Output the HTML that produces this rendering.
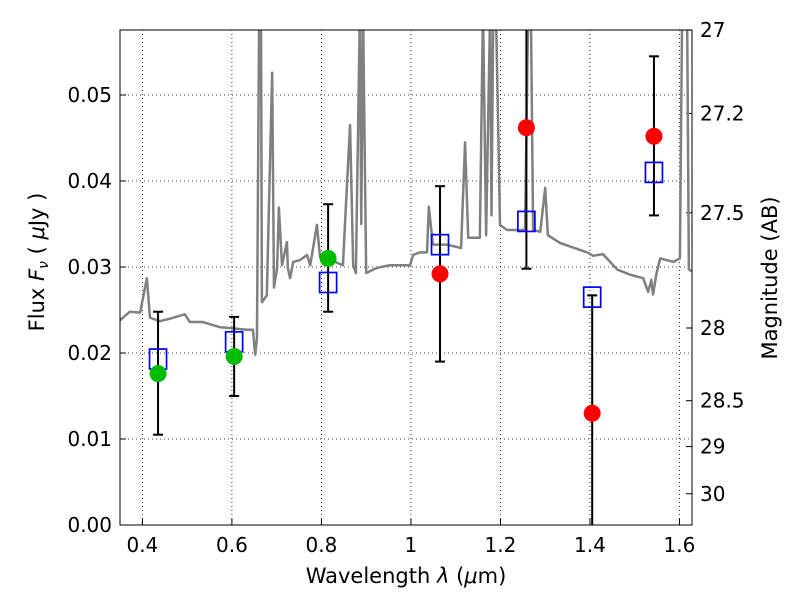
<!DOCTYPE html>
<html><head><meta charset="utf-8"><style>
body{margin:0;background:#fff;}
svg{font-family:"DejaVu Sans","Liberation Sans",sans-serif;}
</style></head><body>
<svg id="chart" width="800" height="600" viewBox="0 0 800 600"></svg>
<script>
const specLam=[0.350,0.372,0.395,0.410,0.417,0.439,0.462,0.495,0.506,0.535,0.573,0.596,0.634,0.647,0.652,0.656,0.661,0.665,0.667,0.678,0.690,0.694,0.701,0.705,0.712,0.723,0.725,0.730,0.737,0.752,0.768,0.775,0.790,0.797,0.813,0.835,0.848,0.864,0.871,0.877,0.886,0.889,0.893,0.900,0.924,0.953,0.998,1.005,1.020,1.036,1.040,1.049,1.081,1.112,1.121,1.128,1.154,1.161,1.168,1.177,1.180,1.184,1.190,1.199,1.215,1.255,1.262,1.268,1.273,1.289,1.300,1.306,1.333,1.394,1.407,1.429,1.461,1.490,1.519,1.530,1.537,1.541,1.548,1.557,1.586,1.601,1.606,1.617,1.621,1.628];
const specFlux=[0.0238,0.0248,0.0247,0.0287,0.0241,0.0237,0.0240,0.0245,0.0236,0.0236,0.0230,0.0229,0.0227,0.0227,0.0198,0.0217,0.06,0.06,0.0259,0.0267,0.0526,0.0276,0.0299,0.0369,0.0302,0.0329,0.0299,0.0287,0.0306,0.0308,0.0314,0.0302,0.0349,0.0311,0.0311,0.0305,0.0302,0.0465,0.0302,0.0293,0.06,0.035,0.06,0.0293,0.0299,0.0302,0.0302,0.0314,0.0317,0.0317,0.037,0.0326,0.0326,0.0322,0.0445,0.0334,0.0334,0.06,0.0337,0.06,0.036,0.06,0.06,0.0349,0.0343,0.0343,0.06,0.06,0.0343,0.0341,0.0392,0.0337,0.0328,0.0317,0.0313,0.0315,0.0297,0.0291,0.0287,0.0271,0.0285,0.0268,0.0291,0.031,0.0306,0.031,0.06,0.06,0.0297,0.0295];
const bandLam=[0.435,0.605,0.815,1.065,1.258,1.405,1.543];
const obsFlux=[0.0176,0.0196,0.031,0.0292,0.0462,0.013,0.0452];
const errLo=[0.0105,0.015,0.0248,0.019,0.0298,-0.001,0.036];
const errHi=[0.0248,0.0242,0.0373,0.0394,0.06,0.0267,0.0545];
const obsColor=['#00bb00','#00bb00','#00bb00','#ff0000','#ff0000','#ff0000','#ff0000'];
const modelFlux=[0.0193,0.0213,0.0282,0.0326,0.0353,0.0265,0.0410];
const xTicks=[0.4,0.6,0.8,1.0,1.2,1.4,1.6];
const xTickLabels=['0.4','0.6','0.8','1','1.2','1.4','1.6'];
const yTicks=[0,0.01,0.02,0.03,0.04,0.05];
const yTickLabels=['0.00','0.01','0.02','0.03','0.04','0.05'];
const magTicks=[27,27.2,27.5,28,28.5,29,30];
const magTickLabels=['27','27.2','27.5','28','28.5','29','30'];

const L=120,R=692,T=30,B=525,xmin=0.35,xmax=1.628,ymin=0,ymax=0.05756;
const X=v=>L+(v-xmin)/(xmax-xmin)*(R-L);
const Y=v=>B-(v-ymin)/(ymax-ymin)*(B-T);
const svg=document.getElementById('chart');
const NS='http://www.w3.org/2000/svg';
function mk(tag,attrs,parent){const e=document.createElementNS(NS,tag);for(const k in attrs)e.setAttribute(k,attrs[k]);(parent||svg).appendChild(e);return e;}
const defs=mk('defs',{});const cp=mk('clipPath',{id:'clip'},defs);mk('rect',{x:L,y:T,width:R-L,height:B-T},cp);
xTicks.forEach((t,i)=>{const g=mk('line',{x1:X(t),x2:X(t),y1:T,y2:B,stroke:'#000','stroke-width':0.8,'stroke-dasharray':'1,3'});

const tk=mk('line',{x1:X(t),x2:X(t),y1:B,y2:B-6,stroke:'#000'});
const tx=mk('text',{x:X(t),y:B+27,'font-size':20,'text-anchor':'middle'});tx.textContent=xTickLabels[i];
});
yTicks.forEach((t,i)=>{const g=mk('line',{x1:L,x2:R,y1:Y(t),y2:Y(t),stroke:'#000','stroke-width':0.8,'stroke-dasharray':'1,3'});

const tk=mk('line',{x1:L,x2:L+6,y1:Y(t),y2:Y(t),stroke:'#000'});
const tx=mk('text',{x:L-8,y:Y(t)+7,'font-size':20,'text-anchor':'end'});tx.textContent=yTickLabels[i];
});
magTicks.forEach((m,i)=>{const f=Math.pow(10,(23.9-m)/2.5);const y=Y(f);
const tk=mk('line',{x1:R,x2:R-6,y1:y,y2:y,stroke:'#000'});
const tx=mk('text',{x:R+8,y:y+7,'font-size':20});tx.textContent=magTickLabels[i];
});
const pl=mk('polyline',{points:specLam.map((l,i)=>X(l)+','+Y(specFlux[i])).join(' '),fill:'none',stroke:'#808080','stroke-width':2.5,'stroke-linejoin':'round','clip-path':'url(#clip)'});

bandLam.forEach((l,i)=>{const x=X(l);const g=mk('g',{'clip-path':'url(#clip)'});

mk('line',{x1:x,x2:x,y1:Y(errLo[i]),y2:Y(errHi[i]),stroke:'#000','stroke-width':2},g);
mk('line',{x1:x-5,x2:x+5,y1:Y(errLo[i]),y2:Y(errLo[i]),stroke:'#000','stroke-width':2},g);
mk('line',{x1:x-5,x2:x+5,y1:Y(errHi[i]),y2:Y(errHi[i]),stroke:'#000','stroke-width':2},g);});
bandLam.forEach((l,i)=>{const s=mk('rect',{x:X(l)-8.5,y:Y(modelFlux[i])-10,width:17,height:20,fill:'none',stroke:'#0000ff','stroke-width':1.7});
});
bandLam.forEach((l,i)=>{const c=mk('circle',{cx:X(l),cy:Y(obsFlux[i]),r:8.5,fill:obsColor[i]});
});
const fr=mk('rect',{x:L,y:T,width:R-L,height:B-T,fill:'none',stroke:'#000','stroke-width':1});

const xt=mk('text',{x:406,y:583,'font-size':21,'text-anchor':'middle'});
xt.innerHTML='Wavelength  <tspan font-style="italic">λ</tspan> (<tspan font-style="italic">μ</tspan>m)';

const yt=mk('text',{x:0,y:0,'font-size':21,'text-anchor':'middle',transform:'translate(44,262) rotate(-90)'});
yt.innerHTML='Flux  <tspan font-style="italic">F</tspan><tspan font-style="italic" font-size="14" dy="4">ν</tspan><tspan dy="-4">  ( </tspan><tspan font-style="italic">μ</tspan>Jy )';

const rt=mk('text',{x:0,y:0,'font-size':21,'text-anchor':'middle',transform:'translate(777,278) rotate(-90)'});
rt.textContent='Magnitude (AB)';

</script>
</body></html>
